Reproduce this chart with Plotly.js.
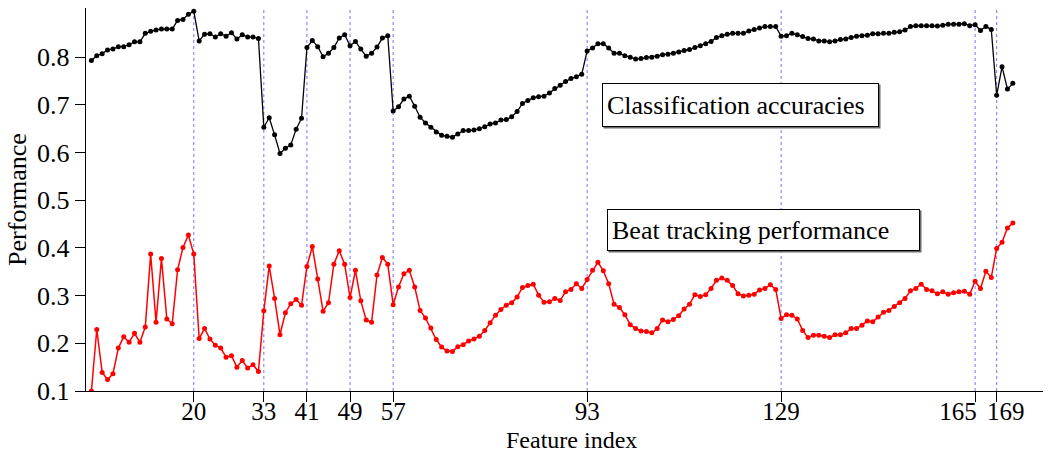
<!DOCTYPE html>
<html>
<head>
<meta charset="utf-8">
<script src="https://cdn.plot.ly/plotly-3.0.1.min.js"></script>
<style>
html,body{margin:0;padding:0;background:#fff;}
#chart{width:1049px;height:455px;}
</style>
</head>
<body>
<div id="chart"></div>
<script>
// ---- data ----
const featureIndex = Array.from({length: 172}, (_, i) => i + 1);

const classificationAccuracy = [
  0.793, 0.803, 0.807, 0.815, 0.817, 0.822, 0.822, 0.826, 0.832, 0.832, 0.850, 0.854, 0.857, 0.859, 0.859, 0.859, 0.877, 0.879, 0.890, 0.896,
  0.834, 0.848, 0.849, 0.842, 0.849, 0.844, 0.851, 0.838, 0.847, 0.842, 0.842, 0.839, 0.653, 0.673, 0.637, 0.598, 0.609, 0.616, 0.649, 0.672,
  0.820, 0.835, 0.822, 0.801, 0.808, 0.820, 0.840, 0.847, 0.824, 0.833, 0.817, 0.802, 0.808, 0.821, 0.840, 0.845, 0.687, 0.696, 0.712, 0.718,
  0.697, 0.674, 0.662, 0.653, 0.643, 0.636, 0.634, 0.632, 0.639, 0.646, 0.646, 0.647, 0.650, 0.654, 0.660, 0.662, 0.668, 0.669, 0.675, 0.686,
  0.703, 0.709, 0.715, 0.717, 0.718, 0.725, 0.734, 0.741, 0.749, 0.755, 0.759, 0.764, 0.813, 0.819, 0.828, 0.828, 0.819, 0.808, 0.808, 0.803,
  0.800, 0.796, 0.797, 0.799, 0.800, 0.802, 0.805, 0.806, 0.808, 0.811, 0.814, 0.816, 0.820, 0.824, 0.828, 0.833, 0.841, 0.845, 0.848, 0.850,
  0.850, 0.850, 0.855, 0.858, 0.861, 0.864, 0.864, 0.864, 0.844, 0.845, 0.850, 0.847, 0.843, 0.839, 0.838, 0.834, 0.834, 0.832, 0.834, 0.837,
  0.838, 0.841, 0.844, 0.845, 0.846, 0.849, 0.849, 0.850, 0.850, 0.852, 0.853, 0.857, 0.864, 0.866, 0.866, 0.866, 0.866, 0.865, 0.867, 0.869,
  0.869, 0.869, 0.870, 0.866, 0.868, 0.856, 0.864, 0.858, 0.720, 0.780, 0.733, 0.745
];

const beatTracking = [
  0.100, 0.229, 0.139, 0.124, 0.136, 0.190, 0.214, 0.202, 0.221, 0.202, 0.234, 0.387, 0.244, 0.378, 0.251, 0.241, 0.354, 0.401, 0.427, 0.387,
  0.210, 0.231, 0.209, 0.196, 0.190, 0.171, 0.174, 0.150, 0.164, 0.148, 0.155, 0.141, 0.268, 0.362, 0.294, 0.218, 0.264, 0.283, 0.292, 0.280,
  0.361, 0.403, 0.335, 0.267, 0.285, 0.366, 0.394, 0.366, 0.296, 0.353, 0.289, 0.249, 0.244, 0.343, 0.380, 0.366, 0.281, 0.318, 0.346, 0.353,
  0.318, 0.269, 0.253, 0.232, 0.208, 0.192, 0.184, 0.183, 0.193, 0.197, 0.205, 0.209, 0.215, 0.227, 0.243, 0.259, 0.271, 0.280, 0.285, 0.297,
  0.317, 0.321, 0.324, 0.301, 0.286, 0.287, 0.294, 0.290, 0.308, 0.313, 0.325, 0.315, 0.334, 0.353, 0.370, 0.352, 0.325, 0.282, 0.275, 0.260,
  0.239, 0.231, 0.226, 0.225, 0.222, 0.231, 0.249, 0.245, 0.250, 0.258, 0.272, 0.282, 0.302, 0.298, 0.302, 0.315, 0.332, 0.337, 0.332, 0.321,
  0.304, 0.299, 0.301, 0.303, 0.312, 0.315, 0.323, 0.313, 0.252, 0.260, 0.259, 0.251, 0.227, 0.212, 0.217, 0.217, 0.215, 0.212, 0.218, 0.218,
  0.222, 0.231, 0.231, 0.238, 0.247, 0.245, 0.255, 0.265, 0.269, 0.277, 0.285, 0.294, 0.310, 0.315, 0.324, 0.313, 0.310, 0.304, 0.308, 0.303,
  0.306, 0.308, 0.309, 0.303, 0.330, 0.315, 0.351, 0.338, 0.399, 0.412, 0.442, 0.452
];

const xTicks = [20, 33, 41, 49, 57, 93, 129, 165, 169];
const xTicksMain = [20, 33, 41, 49, 57, 93, 129];
const xTickLeftShifted = [165];   // label drawn a little to the left of its tick
const xTickRightShifted = [169];  // label drawn a little to the right of its tick
const yTicks = [0.1, 0.2, 0.3, 0.4, 0.5, 0.6, 0.7, 0.8];
const yTickLabels = ['0.1', '0.2', '0.3', '0.4', '0.5', '0.6', '0.7', '0.8'];

const labelClassification = 'Classification accuracies';
const labelBeat = 'Beat tracking performance';
const xTitle = 'Feature index';
const yTitle = 'Performance';

// ---- layout helpers ----
const W = 1049, H = 455;
const M = {l: 86, r: 6, t: 8, b: 64};
const PW = W - M.l - M.r, PH = H - M.t - M.b;
const px = x => (x - M.l) / PW;          // pixel x -> paper x
const py = y => (H - M.b - y) / PH;      // pixel y -> paper y

const FONT = '"Liberation Serif", "Times New Roman", serif';
const FS = 26;
const FSX = 25;
const FST = 24;
const X_RANGE = [0, 177.6];

const traces = [
  {
    x: featureIndex, y: classificationAccuracy, type: 'scatter', mode: 'lines+markers',
    line: {color: '#000000', width: 1.3},
    marker: {color: '#000000', size: 5},
    hoverinfo: 'skip', showlegend: false
  },
  {
    x: featureIndex, y: beatTracking, type: 'scatter', mode: 'lines+markers',
    line: {color: '#ff0000', width: 1.5},
    marker: {color: '#ff0000', size: 5},
    hoverinfo: 'skip', showlegend: false
  },
  // empty carrier traces so the overlaying label-only axes get drawn
  {x: [], y: [], xaxis: 'x2', yaxis: 'y', type: 'scatter', mode: 'markers', hoverinfo: 'skip', showlegend: false},
  {x: [], y: [], xaxis: 'x3', yaxis: 'y', type: 'scatter', mode: 'markers', hoverinfo: 'skip', showlegend: false}
];

const shapes = xTicks.map(v => ({
  type: 'line', xref: 'x', yref: 'y', x0: v, x1: v, y0: 0.1, y1: 0.9,
  line: {color: 'rgba(80,80,255,0.8)', width: 1, dash: 'dot'}, layer: 'below'
}));

function boxShadow(x0, y0, x1, y1) {
  return {type: 'rect', xref: 'paper', yref: 'paper',
    x0: px(x0 + 1.5), x1: px(x1 + 1.5), y0: py(y1 + 1.5), y1: py(y0 + 1.5),
    fillcolor: '#6a6a6a', line: {width: 0}, layer: 'above'};
}
shapes.push(boxShadow(602, 83, 879, 127));
shapes.push(boxShadow(607, 209, 920, 251));

function boxAnnot(text, x0, y0, x1, y1) {
  const pad = 4;
  return {
    text: text, xref: 'paper', yref: 'paper',
    x: px(x0), y: py(y0), xanchor: 'left', yanchor: 'top',
    showarrow: false, align: 'left',
    width: (x1 - x0) - 2 - 2 * pad, height: (y1 - y0) - 2 - 2 * pad,
    borderpad: pad, borderwidth: 1, bordercolor: '#000000', bgcolor: '#ffffff',
    font: {family: FONT, size: FS, color: '#000000'}
  };
}

function xAxis(vals, shift, extra) {
  return Object.assign({
    range: X_RANGE, tickmode: 'array', tickvals: vals, ticktext: vals.map(String),
    tickangle: 0, ticklabelshift: shift, ticklabelstandoff: -12,
    ticks: 'outside', ticklen: 10, tickwidth: 1, tickcolor: '#000000',
    showgrid: false, zeroline: false, fixedrange: true,
    tickfont: {family: FONT, size: FSX, color: '#000000'}
  }, extra);
}

const layout = {
  width: W, height: H,
  margin: M,
  paper_bgcolor: '#ffffff', plot_bgcolor: '#ffffff',
  font: {family: FONT, size: FS, color: '#000000'},
  xaxis: xAxis(xTicksMain, 0, {showline: true, linecolor: '#000000', linewidth: 1.3}),
  xaxis2: xAxis(xTickLeftShifted, -17, {overlaying: 'x', anchor: 'y', side: 'bottom', showline: false}),
  xaxis3: xAxis(xTickRightShifted, 9, {overlaying: 'x', anchor: 'y', side: 'bottom', showline: false}),
  yaxis: {
    range: [0.1, 0.903], tickmode: 'array', tickvals: yTicks, ticktext: yTickLabels,
    ticks: 'outside', ticklen: 10, tickwidth: 1, tickcolor: '#000000',
    showline: true, linecolor: '#000000', linewidth: 1.3,
    showgrid: false, zeroline: false,
    tickfont: {family: FONT, size: FS, color: '#000000'},
    title: {text: yTitle, font: {family: FONT, size: FS, color: '#000000'}, standoff: 3}
  },
  shapes: shapes,
  annotations: [
    boxAnnot(labelClassification, 602, 83, 879, 127),
    boxAnnot(labelBeat, 607, 209, 920, 251),
    {
      text: xTitle, xref: 'paper', yref: 'paper', x: px(571), y: py(455),
      xanchor: 'center', yanchor: 'bottom', showarrow: false,
      font: {family: FONT, size: FST, color: '#000000'}
    }
  ]
};

Plotly.newPlot('chart', traces, layout, {staticPlot: true, displayModeBar: false});
</script>
</body>
</html>
